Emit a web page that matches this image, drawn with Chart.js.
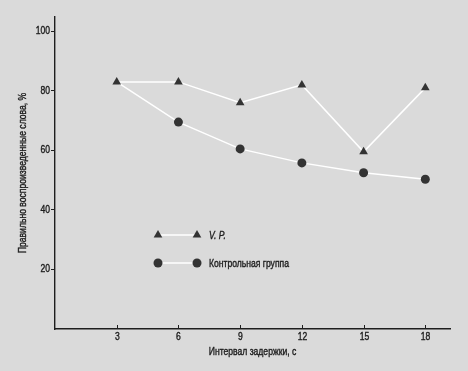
<!DOCTYPE html>
<html>
<head>
<meta charset="utf-8">
<script src="https://cdn.jsdelivr.net/npm/chart.js@4"></script>
<style>
  html, body { margin: 0; padding: 0; background: #dadada; }
  #wrap { width: 468px; height: 371px; }
</style>
</head>
<body>
<div id="wrap"><canvas id="c" width="468" height="371"></canvas></div>
<script>
// Delay intervals, seconds
const intervals = [3, 6, 9, 12, 15, 18];
// Correctly recalled words, %
const patientVP = [83, 83, 76, 82, 59.5, 81];
const controlGroup = [83, 69.5, 60.5, 55.8, 52.5, 50.3];
const seriesLabels = ['V. P.', 'Контрольная группа'];
const yTickValues = [20, 40, 60, 80, 100];
const xTickValues = [3, 6, 9, 12, 15, 18];
const xTitle = 'Интервал задержки, с';
const yTitle = 'Правильно воспроизведенные слова, %';

const FONT = "'Liberation Sans', Arial, sans-serif";
const INK = '#1e1e1e';
const MARK = '#333333';
const NARROW = 0.78; // horizontal squeeze for the narrow typeface look
const CIRCLE_R = 4.5;

const toPoints = (ys) => intervals.map((x, i) => ({ x, y: ys[i] }));

// Draw a string squeezed horizontally, optionally rotated, with a slightly heavier stroke
function narrowText(ctx, text, x, y, align, angle, italic) {
  ctx.save();
  ctx.translate(x, y);
  if (angle) ctx.rotate(angle);
  ctx.scale(NARROW, 1);
  ctx.font = (italic ? 'italic ' : '') + '11px ' + FONT;
  ctx.fillStyle = INK;
  ctx.strokeStyle = INK;
  ctx.lineWidth = 0.4;
  ctx.textAlign = align;
  ctx.textBaseline = 'middle';
  ctx.fillText(text, 0, 0);
  ctx.strokeText(text, 0, 0);
  ctx.restore();
}

// Gray page background
const background = {
  id: 'background',
  beforeDraw(chart) {
    const { ctx } = chart;
    ctx.save();
    ctx.fillStyle = '#dadada';
    ctx.fillRect(0, 0, chart.width, chart.height);
    ctx.restore();
  }
};

// Axis labels, titles and the short inward x tick marks
const axisText = {
  id: 'axisText',
  afterDraw(chart) {
    const { ctx, chartArea } = chart;
    const xs = chart.scales.x, ys = chart.scales.y;
    ctx.save();
    ctx.strokeStyle = INK;
    ctx.lineWidth = 1;
    xs.ticks.forEach(t => {
      const px = Math.round(xs.getPixelForValue(t.value)) + 0.5;
      ctx.beginPath();
      ctx.moveTo(px, xs.top);
      ctx.lineTo(px, xs.top - 4);
      ctx.stroke();
      narrowText(ctx, String(t.value), px, xs.top + 8, 'center');
    });
    ys.ticks.forEach(t => {
      const py = ys.getPixelForValue(t.value);
      narrowText(ctx, String(t.value), ys.right - 5, py, 'right');
    });
    narrowText(ctx, xTitle, (chartArea.left + chartArea.right) / 2, xs.top + 23, 'center');
    narrowText(ctx, yTitle, 23, (chartArea.top + chartArea.bottom) / 2, 'center', -Math.PI / 2);
    ctx.restore();
  }
};

// Legend drawn inside the plot: marker — line — marker, then label
const innerLegend = {
  id: 'innerLegend',
  afterDatasetsDraw(chart) {
    const { ctx } = chart;
    const x1 = 158, x2 = 197, tx = 209;
    const rows = [235, 263];
    const radii = [5, CIRCLE_R];
    chart.data.datasets.forEach((ds, i) => {
      const y = rows[i];
      ctx.save();
      ctx.strokeStyle = ds.borderColor;
      ctx.lineWidth = ds.borderWidth;
      ctx.beginPath();
      ctx.moveTo(x1, y);
      ctx.lineTo(x2, y);
      ctx.stroke();
      const opts = { pointStyle: ds.pointStyle, radius: radii[i], borderWidth: 0, rotation: 0 };
      ctx.fillStyle = ds.pointBackgroundColor;
      ctx.strokeStyle = ds.pointBackgroundColor;
      Chart.helpers.drawPoint(ctx, opts, x1, y);
      Chart.helpers.drawPoint(ctx, opts, x2, y);
      ctx.restore();
      narrowText(ctx, ds.label, tx, y + 0.5, 'left', 0, i === 0);
    });
  }
};

new Chart(document.getElementById('c'), {
  type: 'line',
  data: {
    datasets: [
      {
        label: seriesLabels[0],
        data: toPoints(patientVP),
        borderColor: '#ffffff',
        borderWidth: 1.5,
        pointStyle: 'triangle',
        pointRadius: 5,
        pointBackgroundColor: MARK,
        pointBorderColor: MARK,
        pointBorderWidth: 0,
        tension: 0,
        order: 0
      },
      {
        label: seriesLabels[1],
        data: toPoints(controlGroup),
        borderColor: '#ffffff',
        borderWidth: 1.5,
        pointStyle: 'circle',
        // the shared starting point at 3 s shows only the triangle
        pointRadius: (c) => (c.dataIndex === 0 ? 0 : CIRCLE_R),
        pointBackgroundColor: MARK,
        pointBorderColor: MARK,
        pointBorderWidth: 0,
        tension: 0,
        order: 1
      }
    ]
  },
  options: {
    responsive: false,
    animation: false,
    layout: { padding: { left: 10, top: 17, right: 18, bottom: 8 } },
    plugins: { legend: { display: false }, tooltip: { enabled: false } },
    scales: {
      x: {
        type: 'linear',
        min: 0,
        max: 19.2,
        afterBuildTicks(scale) { scale.ticks = xTickValues.map(v => ({ value: v })); },
        afterFit(scale) { scale.height = 34; },
        grid: { display: false, drawTicks: false },
        border: { display: true, color: INK, width: 1.4 },
        ticks: { display: false },
        title: { display: false }
      },
      y: {
        type: 'linear',
        min: 0,
        max: 104.8,
        afterBuildTicks(scale) { scale.ticks = yTickValues.map(v => ({ value: v })); },
        afterFit(scale) { scale.width = 45; },
        grid: { display: true, drawOnChartArea: false, drawTicks: true, tickLength: 4, color: INK, lineWidth: 1 },
        border: { display: true, color: INK, width: 1.4 },
        ticks: { display: false },
        title: { display: false }
      }
    }
  },
  plugins: [background, axisText, innerLegend]
});
</script>
</body>
</html>
